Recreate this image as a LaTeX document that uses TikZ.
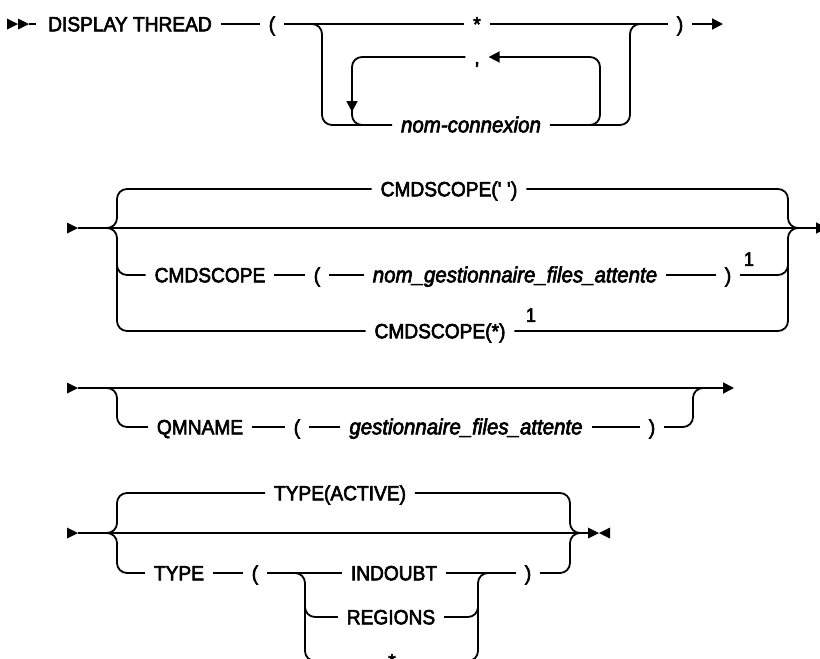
\documentclass[tikz,border=0pt]{standalone}
\usepackage{fontspec}
\setmainfont{Liberation Sans}[FakeBold=3, FakeStretch=0.93]
\usetikzlibrary{arrows.meta,positioning,calc}
\tikzset{
  rail/.style  = {line width=1.8pt, rounded corners=10pt},
  go/.style    = {-{Triangle[length=11pt,width=11pt]}},
  kw/.style    = {inner sep=0pt, outer xsep=9pt, text height=14.6pt, text depth=0pt,
                  font=\fontsize{20.6}{24}\selectfont},
  var/.style   = {kw, font=\fontsize{22}{26}\selectfont\itshape},
  note/.style  = {inner sep=0pt, text height=13.6pt, text depth=0pt,
                  font=\fontsize{19.5}{22}\selectfont},
  pics/lead/.style = {code={\fill (0,-5.5) -- (11,0) -- (0,5.5) -- cycle;}},
  pics/tail/.style = {code={\fill (0,0) -- (11,-5.5) -- (11,5.5) -- cycle;}},
}
\begin{document}
\begin{tikzpicture}[x=1pt, y=-1pt]
  \useasboundingbox (0,0) rectangle (820,659);
  \clip (0,0) rectangle (820,659);

  % DISPLAY THREAD ( * | nom-connexion, ... )
  \pic at (7,24) {lead};
  \pic at (18,24) {lead};
  \coordinate (s1) at (29,24);
  \node[kw] (disp)  at (130,24)  {DISPLAY THREAD};
  \node[kw] (lp1)   at (272,24)  {(};
  \node[kw] (star1) at (477,24)  {*};
  \node[kw] (rp1)   at (680,24)  {)};
  \node[kw] (comma) at (477,57)  {,};
  \node[var] (conn) at (471,125) {nom-connexion};
  \coordinate (e1) at (723,24);
  \draw[rail] (s1) -- (36,24);
  \draw[rail] (disp) -- (lp1);
  \draw[rail] (lp1) -- (star1);
  \draw[rail] (star1) -- (rp1);
  \draw[rail, go] (rp1) -- (e1);
  \draw[rail] (312,24) -- (322,24) |- (conn.west);
  \draw[rail] (conn.east) -| (630,24) -- (640,24);
  \draw[rail, go] (590,125) -| (600,57) -- (comma.east);
  \draw[rail, go] (comma.west) -| (352,112);
  \draw[rail] (352,108) |- (372,125);

  % CMDSCOPE
  \pic at (67,228) {lead};
  \coordinate (s2) at (78,228);
  \coordinate (e2) at (827,228);
  \node[kw] (cmdq)   at (449,189) {CMDSCOPE(\textquotesingle\ \textquotesingle)};
  \node[kw] (cmd)    at (210,275) {CMDSCOPE};
  \node[kw] (lp2)    at (317,275) {(};
  \node[var] (qmgr)  at (515,275) {nom\_gestionnaire\_files\_attente};
  \node[kw] (rp2)    at (728,275) {)};
  \node[note] (n1a)  at (749,259) {1};
  \node[kw] (cmdall) at (440,331) {CMDSCOPE(*)};
  \node[note] (n1b)  at (531,315) {1};
  \draw[rail, go] (s2) -- (e2);
  \draw[rail] (107,228) -| (117,189) -- (cmdq.west);
  \draw[rail] (107,228) -| (117,331) -- (cmdall.west);
  \draw[rail] (117,265) |- (cmd.west);
  \draw[rail] (cmd) -- (lp2);
  \draw[rail] (lp2) -- (qmgr);
  \draw[rail] (qmgr) -- (rp2);
  \draw[rail] (cmdq.east) -| (788,228) -- (798,228);
  \draw[rail] (cmdall.east) -| (788,228) -- (798,228);
  \draw[rail] (rp2.east) -| (788,265);

  % QMNAME
  \pic at (67,388) {lead};
  \coordinate (s3) at (78,388);
  \coordinate (e3) at (734,388);
  \node[kw] (qmn)    at (200,427) {QMNAME};
  \node[kw] (lp3)    at (297,427) {(};
  \node[var] (qmgr3) at (466,427) {gestionnaire\_files\_attente};
  \node[kw] (rp3)    at (652,427) {)};
  \draw[rail, go] (s3) -- (e3);
  \draw[rail] (107,388) -| (117,427) -- (qmn.west);
  \draw[rail] (qmn) -- (lp3);
  \draw[rail] (lp3) -- (qmgr3);
  \draw[rail] (qmgr3) -- (rp3);
  \draw[rail] (rp3.east) -| (693,388) -- (703,388);

  % TYPE
  \pic at (67,533) {lead};
  \coordinate (s4) at (78,533);
  \coordinate (e4) at (588,533);
  \node[kw] (act)   at (340,493) {TYPE(ACTIVE)};
  \node[kw] (typ)   at (179,573) {TYPE};
  \node[kw] (lp4)   at (255,573) {(};
  \node[kw] (indb)  at (394,573) {INDOUBT};
  \node[kw] (rp4)   at (528,573) {)};
  \node[kw] (regn)  at (391,617) {REGIONS};
  \node[kw] (star4) at (392,661) {*};
  \draw[rail] (s4) -- (e4);
  \pic at (e4) {lead};
  \pic at (599,533) {tail};
  \draw[rail] (107,533) -| (117,493) -- (act.west);
  \draw[rail] (107,533) -| (117,573) -- (typ.west);
  \draw[rail] (act.east) -| (570,533) -- (580,533);
  \draw[rail] (rp4.east) -| (570,533) -- (580,533);
  \draw[rail] (typ) -- (lp4);
  \draw[rail] (lp4) -- (indb);
  \draw[rail] (indb) -- (rp4);
  \draw[rail] (295,573) -| (305,661) -- (star4.west);
  \draw[rail] (305,607) |- (regn.west);
  \draw[rail] (star4.east) -| (478,573) -- (488,573);
  \draw[rail] (regn.east) -| (478,607);
\end{tikzpicture}
\end{document}
